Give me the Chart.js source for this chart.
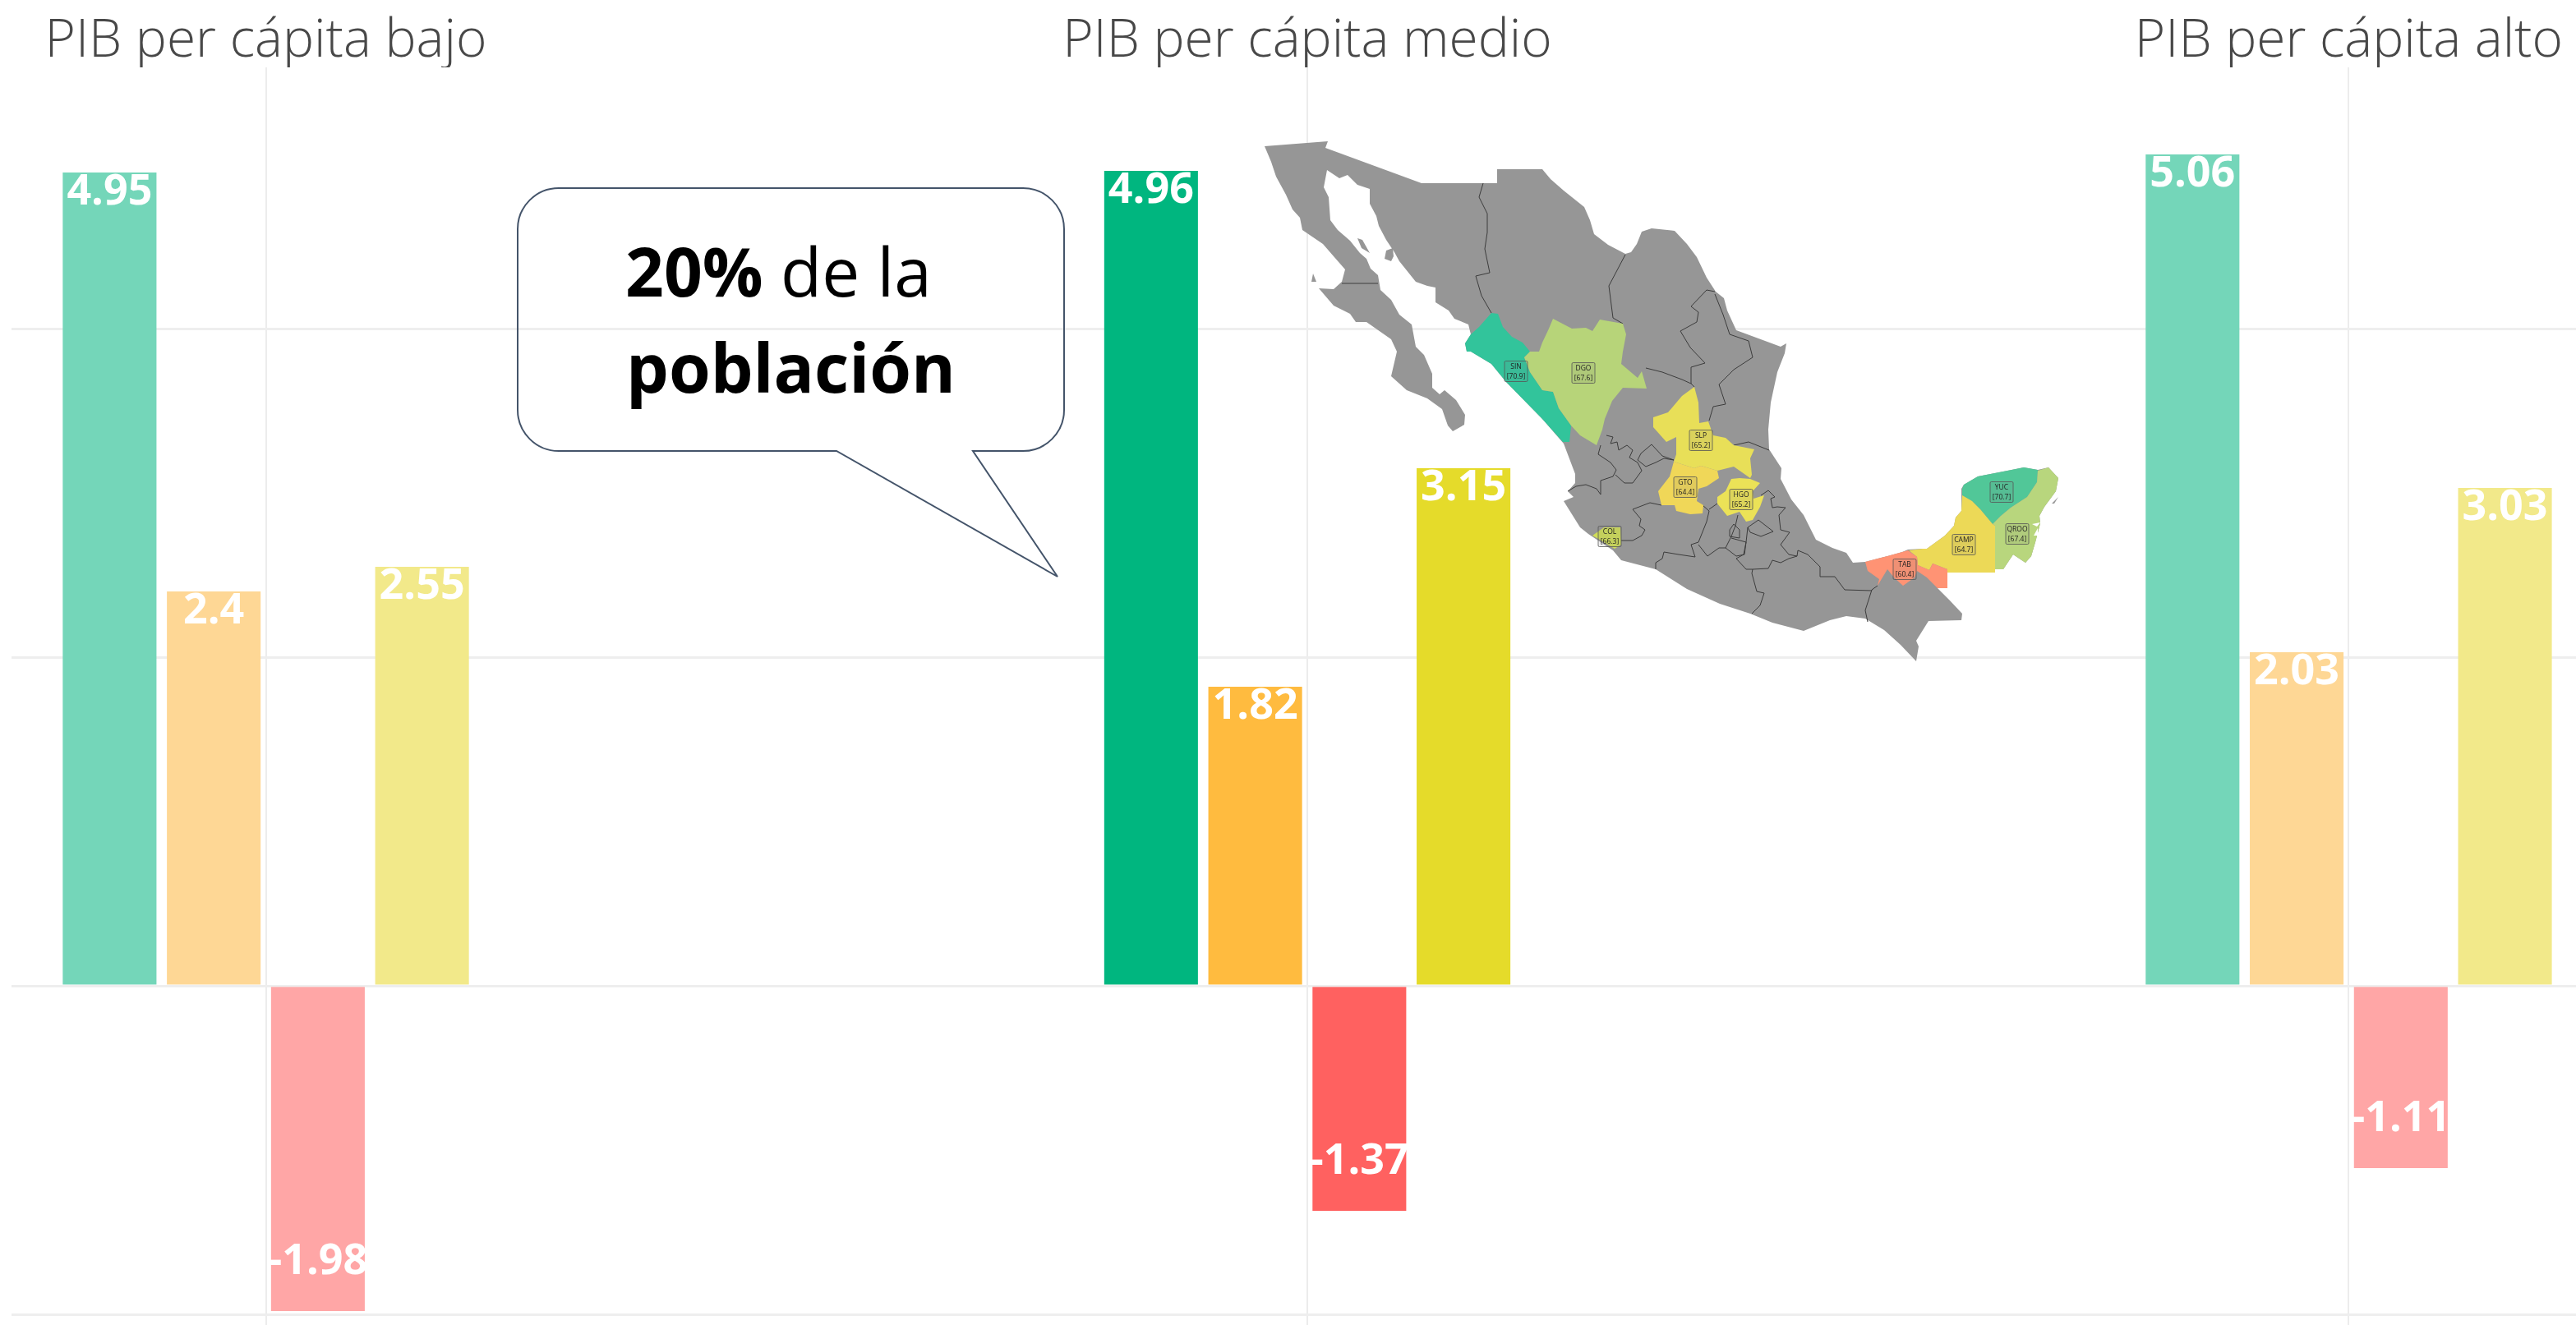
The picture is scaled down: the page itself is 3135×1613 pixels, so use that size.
<!DOCTYPE html>
<html lang="es">
<head>
<meta charset="utf-8">
<title>PIB per cápita</title>
<script src="https://cdn.jsdelivr.net/npm/chart.js@4/dist/chart.umd.min.js"></script>
<style>
html,body{margin:0;padding:0;background:#fff;width:3135px;height:1613px;overflow:hidden}
#c{position:absolute;left:0;top:0}
#overlay{position:absolute;left:0;top:0;pointer-events:none}
</style>
</head>
<body>
<canvas id="c" width="3135" height="1613"></canvas>
<svg id="overlay" width="3135" height="1613" viewBox="0 0 3135 1613" xmlns="http://www.w3.org/2000/svg">
  <!-- Callout -->
  <path d="M680 229 H1245 A50 50 0 0 1 1295 279 V499 A50 50 0 0 1 1245 549 H1184 L1287 702 L1018 549 H680 A50 50 0 0 1 630 499 V279 A50 50 0 0 1 680 229 Z" fill="none" stroke="#44546a" stroke-width="2"/>
  <text x="761" y="361" font-family="'Open Sans'" font-size="82" fill="#000"><tspan font-weight="700">20%</tspan><tspan font-weight="400"> de la</tspan></text>
  <text x="762" y="478" font-family="'Open Sans'" font-size="82" font-weight="700" fill="#000">población</text>
  <!-- Inset map -->
  <g>
    <path fill="#969696" d="M1539 178 L1616 172 L1613 180 L1730 223 L1822 223 L1822 206 L1877 206 L1887 218 L1903 232 L1928 252 L1935 268 L1940 285 L1957 298 L1978 309 L1985 307 L1992 297 L1998 282 L2010 278 L2038 281 L2053 297 L2065 313 L2077 338 L2088 355 L2098 363 L2102 378 L2113 402 L2140 412 L2167 422 L2174 418 L2172 430 L2163 453 L2155 490 L2152 523 L2153 547 L2168 570 L2167 583 L2180 608 L2195 627 L2210 657 L2230 667 L2247 673 L2255 685 L2270 684 L2297 677 L2315 672 L2322 669 L2340 668 L2345 668 L2367 652 L2378 640 L2380 630 L2387 622 L2387 595 L2390 590 L2407 580 L2443 573 L2463 569 L2480 572 L2493 569 L2505 582 L2502 598 L2488 617 L2482 628 L2483 637 L2477 660 L2472 677 L2465 685 L2462 683 L2450 675 L2438 693 L2428 693 L2428 697 L2370 697 L2370 716 L2358 716 L2372 730 L2388 747 L2387 755 L2347 756 L2332 780 L2335 787 L2332 805 L2313 785 L2293 767 L2270 753 L2247 750 L2227 755 L2195 768 L2157 758 L2130 747 L2093 735 L2053 717 L2015 693 L1973 682 L1963 670 L1933 650 L1923 642 L1903 610 L1915 605 L1908 598 L1917 588 L1917 577 L1903 540 L1877 510 L1833 465 L1815 443 L1790 428 L1785 428 L1783 418 L1790 407 L1787 395 L1770 388 L1763 378 L1747 368 L1747 350 L1737 348 L1723 343 L1703 318 L1697 307 L1687 292 L1678 275 L1675 263 L1667 248 L1667 230 L1652 225 L1640 213 L1630 217 L1615 207 L1611 228 L1617 240 L1619 268 L1628 280 L1643 293 L1655 308 L1663 315 L1668 327 L1677 335 L1680 353 L1693 365 L1703 383 L1718 395 L1723 422 L1733 432 L1743 455 L1743 472 L1752 480 L1758 475 L1772 487 L1783 505 L1782 517 L1768 525 L1762 518 L1755 498 L1737 485 L1712 475 L1693 458 L1700 428 L1693 413 L1663 392 L1650 392 L1643 382 L1623 372 L1605 351 L1623 352 L1633 343 L1637 328 L1623 312 L1610 297 L1585 280 L1582 265 L1573 255 L1565 237 L1553 215 L1547 197 Z"/>
    <path fill="#969696" d="M1652 290 L1658 292 L1667 308 L1657 302 Z M1687 305 L1695 302 L1696 312 L1693 318 L1685 315 Z M1598 333 L1602 343 L1596 343 Z M2497 613 L2505 605 L2500 613 Z"/>
    <g fill="none" stroke="#3c3c3c" stroke-width="1">
      <path d="M1633 345 L1677 345"/>
      <path d="M1805 223 L1800 240 L1810 260 L1810 283 L1807 303 L1813 332 L1796 336 L1803 360 L1815 381"/>
      <path d="M1978 310 L1958 348 L1963 387 L1975 394"/>
      <path d="M2087 355 L2077 353 L2058 373 L2067 380 L2065 392 L2045 403 L2057 423 L2075 442 L2058 447 L2058 467 L2062 471"/>
      <path d="M2087 358 L2097 383 L2105 407 L2128 415 L2133 435 L2110 450 L2092 468 L2100 492 L2085 495 L2080 512"/>
      <path d="M2003 448 L2023 453 L2047 462 L2058 467"/>
      <path d="M2110 542 L2128 538 L2153 548"/>
      <path d="M1948 542 L1945 553 L1960 563 L1967 572 L1963 580 L1948 585 L1948 602 M1908 598 L1918 592 L1930 590 L1943 595 L1948 602"/>
      <path d="M1955 530 L1963 532 L1960 540 L1968 538 L1970 548 L1980 542 L1987 548 L1983 557 L1993 563 L1998 573 L1987 588 L1977 588 L1966 578"/>
      <path d="M2010 541 L2023 555 L2037 560 L2025 558 L2015 563 L2003 568 L1993 560 L1997 552 Z"/>
      <path d="M2022 615 L2008 612 L1987 620 L1997 632 L1995 640 L2002 645 L1998 652 L1987 658 L1973 658"/>
      <path d="M2015 693 L2015 685 L2023 680 L2025 672 L2043 675 L2063 678 L2058 663 L2067 660 L2077 635 L2080 622 L2072 615"/>
      <path d="M2067 663 L2078 677 L2092 667 L2100 667 L2107 653 L2112 640 L2115 627 M2080 620 L2090 613"/>
      <path d="M2100 667 L2113 677 L2123 675 L2125 660 L2107 655"/>
      <path d="M2110 638 L2117 645 L2117 655 L2105 653 L2105 645 Z"/>
      <path d="M2127 642 L2140 633 L2158 647 L2143 653 L2130 648 Z"/>
      <path d="M2127 642 L2125 660 L2122 675 L2113 680 L2125 693 L2133 693 L2152 692 L2157 682 L2167 685 L2177 680 L2187 677 L2177 675 L2167 663 L2178 648 L2167 645 L2165 627 L2173 618 L2163 617 L2157 618 L2155 607 L2160 605 L2152 597 L2143 603"/>
      <path d="M2188 670 L2200 675 L2215 690 L2215 702 L2233 702 L2245 718 L2278 719 M2188 670 L2187 677"/>
      <path d="M2133 693 L2132 698 L2138 720 L2147 722 L2142 737 L2132 747"/>
      <path d="M2285 713 L2278 718 L2270 743 L2273 757"/>
    </g>
    <path fill="#32c49b" d="M1815 381 L1823 382 L1829 398 L1840 410 L1853 417 L1862 428 L1855 435 L1862 453 L1877 475 L1890 477 L1897 497 L1912 518 L1910 538 L1902 538 L1877 510 L1833 465 L1815 443 L1790 428 L1785 428 L1783 418 L1790 407 L1800 398 Z"/>
    <path fill="#b7d479" d="M1890 388 L1913 400 L1930 399 L1938 403 L1947 389 L1975 394 L1979 407 L1975 428 L1973 443 L1993 460 L1998 452 L2004 473 L1975 472 L1962 488 L1953 510 L1950 523 L1943 542 L1923 530 L1912 518 L1897 497 L1890 477 L1877 475 L1862 453 L1855 435 L1862 428 L1873 428 L1877 417 L1885 400 Z"/>
    <path fill="#e8df58" d="M2062 471 L2067 490 L2068 515 L2079 513 L2085 530 L2100 533 L2110 542 L2135 547 L2130 558 L2132 578 L2130 582 L2110 568 L2090 573 L2070 567 L2062 570 L2037 562 L2040 553 L2040 532 L2028 538 L2012 520 L2012 508 L2030 502 L2047 482 Z"/>
    <path fill="#f0d758" d="M2037 562 L2062 570 L2070 567 L2090 573 L2092 582 L2077 592 L2067 595 L2065 610 L2073 615 L2072 625 L2057 626 L2040 622 L2038 615 L2022 615 L2018 598 L2032 580 Z"/>
    <path fill="#ebe257" d="M2107 583 L2117 582 L2130 583 L2142 588 L2133 598 L2134 607 L2147 603 L2142 617 L2133 633 L2125 635 L2117 623 L2102 628 L2090 613 L2090 605 L2100 598 Z"/>
    <path fill="#cfdc58" d="M1938 652 L1952 642 L1972 642 L1973 663 L1965 668 L1947 657 Z"/>
    <path fill="#51c798" d="M2388 595 L2390 590 L2407 580 L2443 573 L2463 569 L2480 572 L2479 587 L2467 605 L2447 618 L2435 628 L2425 638 L2410 620 L2400 610 L2388 603 Z"/>
    <path fill="#b8d67d" d="M2480 573 L2493 569 L2505 582 L2502 598 L2488 617 L2482 628 L2483 637 L2477 660 L2472 677 L2465 685 L2462 683 L2450 675 L2438 693 L2428 693 L2428 640 L2425 638 L2435 628 L2447 618 L2467 605 L2479 587 Z"/>
    <path fill="#fff" d="M2473 638 L2483 636 L2479 641 Z M2475 652 L2480 643 L2480 652 Z"/>
    <path fill="#ecd957" d="M2388 603 L2400 610 L2410 620 L2425 638 L2428 640 L2428 697 L2370 697 L2370 693 L2352 686 L2348 694 L2334 688 L2333 678 L2323 670 L2340 668 L2345 668 L2367 652 L2378 640 L2380 630 L2387 622 Z"/>
    <path fill="#ff9374" d="M2270 684 L2297 677 L2315 672 L2322 670 L2333 678 L2334 688 L2348 694 L2352 686 L2370 693 L2370 716 L2358 716 L2345 703 L2333 695 L2330 703 L2316 713 L2305 703 L2297 693 L2285 713 L2287 705 L2273 695 Z"/>
  </g>
  <g id="mapLabels"></g>
</svg>
<script>
// Data
const panelNames = ['PIB per cápita bajo', 'PIB per cápita medio', 'PIB per cápita alto'];
const panelIndex = [0, 1, 2];
const seriesA = [4.95, 4.96, 5.06];
const seriesB = [2.4, 1.82, 2.03];
const seriesC = [-1.98, -1.37, -1.11];
const seriesD = [2.55, 3.15, 3.03];
const colorsA = ['#74d6b9', '#00b67f', '#74d6b9'];
const colorsB = ['#fed795', '#ffbb3f', '#fed795'];
const colorsC = ['#ffa6a6', '#ff6160', '#ffa6a6'];
const colorsD = ['#f2e98a', '#e5db2a', '#f2e98a'];
const stateCodes = ['SIN', 'DGO', 'SLP', 'GTO', 'HGO', 'COL', 'YUC', 'QROO', 'CAMP', 'TAB'];
const stateValues = ['70.9', '67.6', '65.2', '64.4', '65.2', '66.3', '70.7', '67.4', '64.7', '60.4'];
const stateLabelX = [1845, 1927, 2070, 2051, 2119, 1959, 2436, 2455, 2390, 2318];
const stateLabelY = [452, 454, 536, 593, 608, 653, 599, 650, 663, 693];

// Inset map labels
const ns = 'http://www.w3.org/2000/svg';
const mapLabels = document.getElementById('mapLabels');
stateCodes.forEach((code, i) => {
  const x = stateLabelX[i], y = stateLabelY[i];
  const box = document.createElementNS(ns, 'rect');
  box.setAttribute('x', x - 14); box.setAttribute('y', y - 12.5);
  box.setAttribute('width', 28); box.setAttribute('height', 25);
  box.setAttribute('rx', 1.5);
  box.setAttribute('fill', 'rgba(120,120,120,0.12)'); box.setAttribute('stroke', '#555'); box.setAttribute('stroke-width', '0.8');
  mapLabels.appendChild(box);
  [code, '[' + stateValues[i] + ']'].forEach((t, k) => {
    const el = document.createElementNS(ns, 'text');
    el.setAttribute('x', x); el.setAttribute('y', y - 3 + k * 12);
    el.setAttribute('text-anchor', 'middle');
    el.setAttribute('font-family', "'Open Sans'");
    el.setAttribute('font-size', '8.5'); el.setAttribute('fill', '#222');
    el.textContent = t;
    mapLabels.appendChild(el);
  });
});

const toPoints = v => panelIndex.map((p, i) => ({ x: p, y: v[i] }));

const valueLabels = {
  id: 'valueLabels',
  afterDatasetsDraw(chart) {
    const ctx = chart.ctx;
    ctx.save();
    ctx.font = "700 52px 'Open Sans'";
    ctx.fillStyle = '#fff';
    ctx.textAlign = 'center';
    ctx.textBaseline = 'middle';
    chart.data.datasets.forEach((ds, d) => {
      chart.getDatasetMeta(d).data.forEach((bar, i) => {
        const v = ds.data[i].y;
        ctx.fillText(String(v), bar.x, v >= 0 ? bar.y + 24 : bar.y - 60);
      });
    });
    ctx.restore();
  }
};

new Chart(document.getElementById('c'), {
  type: 'bar',
  data: {
    datasets: [
      { data: toPoints(seriesA), backgroundColor: colorsA },
      { data: toPoints(seriesB), backgroundColor: colorsB },
      { data: toPoints(seriesC), backgroundColor: colorsC },
      { data: toPoints(seriesD), backgroundColor: colorsD }
    ]
  },
  options: {
    responsive: false,
    animation: false,
    events: [],
    layout: { padding: { left: 14, right: 0, top: 0, bottom: 0 } },
    categoryPercentage: 0.4,
    barPercentage: 0.9,
    plugins: { legend: { display: false }, tooltip: { enabled: false } },
    scales: {
      x: {
        type: 'linear',
        position: 'top',
        offset: false,
        min: -0.2442,
        max: 2.2182,
        afterBuildTicks: s => { s.ticks = panelIndex.map(v => ({ value: v })); },
        afterFit: s => { s.height = 82; },
        ticks: {
          stepSize: 1,
          autoSkip: false,
          maxRotation: 0,
          padding: -7,
          color: '#484848',
          font: { family: "'Open Sans'", size: 64, weight: '300' },
          callback: v => panelNames[v]
        },
        grid: { offset: false, color: '#ececec', lineWidth: 2, drawTicks: false },
        border: { display: false }
      },
      y: {
        min: -2.065,
        max: 5.59,
        afterBuildTicks: s => { s.ticks = [-2, 0, 2, 4].map(v => ({ value: v })); },
        ticks: { display: false, stepSize: 2 },
        grid: { color: '#eeeeee', lineWidth: 3, drawTicks: false },
        border: { display: false }
      }
    }
  },
  plugins: [valueLabels]
});
</script>
</body>
</html>
